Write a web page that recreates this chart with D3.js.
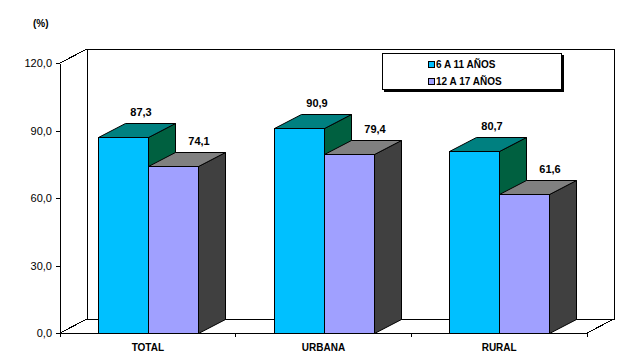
<!doctype html>
<html>
<head>
<meta charset="utf-8">
<script src="https://cdnjs.cloudflare.com/ajax/libs/d3/7.8.5/d3.min.js"></script>
<style>
    body { margin: 0; background: #fff; }
    svg text { font-family: "Liberation Sans", Arial, sans-serif; fill: #000; }
    .axis text { font-size: 11px; }
    .axis path, .axis line { stroke: #000; shape-rendering: crispEdges; }
    .val { font-size: 11px; font-weight: bold; }
    .cat { font-size: 10px; font-weight: bold; }
    .wall { fill: none; stroke: #000; shape-rendering: crispEdges; }
</style>
</head>
<body>
<div id="chart"></div>
<script>
// data
var categories = ["TOTAL", "URBANA", "RURAL"];
var seriesNames = ["6 A 11 AÑOS", "12 A 17 AÑOS"];
var values6a11 = [87.3, 90.9, 80.7];
var values12a17 = [74.1, 79.4, 61.6];
var yTicks = [0, 30, 60, 90, 120];

var seriesValues = [values6a11, values12a17];
// front, top, side colours per series
var colors = [
    { front: "#00c0ff", top: "#008080", side: "#006040" },
    { front: "#a0a0ff", top: "#808080", side: "#404040" }
];
var labelShift = [4, 12];

var W = 636, H = 362;
var dx = 27, dy = 14;   // depth offset

var svg = d3.select("#chart").append("svg")
    .attr("width", W)
    .attr("height", H);

var x = d3.scaleBand().domain(categories).range([60, 587]);
var y = d3.scaleLinear().domain([0, 120]).range([333, 63]);
var xs = d3.scaleBand().domain(d3.range(seriesNames.length)).range([-50, 50]);

// back walls
var x0 = x.range()[0], x1 = x.range()[1];
svg.append("path").attr("class", "wall")
    .attr("d", "M" + x0 + "," + y(120) + "L" + (x0 + dx) + "," + (y(120) - dy) +
        "L" + (x1 + dx) + "," + (y(120) - dy) + "L" + (x1 + dx) + "," + (y(0) - dy) +
        "L" + (x0 + dx) + "," + (y(0) - dy) + "L" + x0 + "," + y(0) +
        "M" + (x0 + dx) + "," + (y(120) - dy) + "L" + (x0 + dx) + "," + (y(0) - dy) +
        "M" + x1 + "," + y(0) + "L" + (x1 + dx) + "," + (y(0) - dy));

// y axis
svg.append("g")
    .attr("class", "axis")
    .attr("transform", "translate(" + x0 + ",0)")
    .call(d3.axisLeft(y).tickValues(yTicks).tickSize(4).tickSizeOuter(0)
        .tickFormat(function(d) { return d.toFixed(1).replace(".", ","); }))
    .selectAll("text").attr("dx", "-1");

// x axis line + ticks
svg.append("line").attr("class", "wall")
    .attr("x1", x0).attr("x2", x1).attr("y1", y(0)).attr("y2", y(0));
var tickXs = categories.map(function(c) { return x(c); }).concat([x1]);
svg.selectAll(".xtick").data(tickXs).enter().append("line")
    .attr("class", "wall")
    .attr("x1", function(d) { return d; }).attr("x2", function(d) { return d; })
    .attr("y1", y(0)).attr("y2", y(0) + 4);

svg.selectAll(".cat").data(categories).enter().append("text")
    .attr("class", "cat")
    .attr("x", function(d) { return x(d) + x.bandwidth() / 2; })
    .attr("y", 351)
    .attr("text-anchor", "middle")
    .text(function(d) { return d; });

// bars
categories.forEach(function(c, ci) {
    seriesValues.forEach(function(vals, si) {
        var v = vals[ci];
        var bx = Math.round(x(c) + x.bandwidth() / 2 + xs(si)) + 0.5;
        var bw = xs.bandwidth();
        var yt = Math.round(y(v)) + 0.5, yb = y(0) + 0.5;
        var g = svg.append("g");
        g.append("polygon")
            .attr("points", [[bx + bw, yt], [bx + bw + dx, yt - dy], [bx + bw + dx, yb - dy], [bx + bw, yb]].join(" "))
            .attr("fill", colors[si].side).attr("stroke", "#000");
        g.append("polygon")
            .attr("points", [[bx, yt], [bx + dx, yt - dy], [bx + bw + dx, yt - dy], [bx + bw, yt]].join(" "))
            .attr("fill", colors[si].top).attr("stroke", "#000");
        g.append("rect")
            .attr("x", bx).attr("y", yt).attr("width", bw).attr("height", yb - yt)
            .attr("fill", colors[si].front).attr("stroke", "#000");
        g.append("text")
            .attr("class", "val")
            .attr("x", bx + bw / 2 + dx / 2 + labelShift[si])
            .attr("y", yt - dy - 8)
            .attr("text-anchor", "middle")
            .text(v.toFixed(1).replace(".", ","));
    });
});

// unit label
svg.append("text")
    .attr("x", 33).attr("y", 27)
    .style("font-size", "10px").style("font-weight", "bold")
    .text("(%)");

// legend
var lg = svg.append("g").attr("transform", "translate(382,53)");
lg.append("rect").attr("x", 2).attr("y", 2).attr("width", 180).attr("height", 37).attr("fill", "#000");
lg.append("rect").attr("x", 0.5).attr("y", 0.5).attr("width", 179).attr("height", 36)
    .attr("fill", "#fff").attr("stroke", "#000");
seriesNames.forEach(function(s, i) {
    var row = lg.append("g").attr("transform", "translate(46," + (8 + i * 17) + ")");
    row.append("rect").attr("x", 0.5).attr("y", 0.5).attr("width", 6).attr("height", 6)
        .attr("fill", colors[i].front).attr("stroke", "#000");
    row.append("text").attr("x", 8).attr("y", 7)
        .style("font-size", "10px").style("font-weight", "bold")
        .text(s);
});
</script>
</body>
</html>
